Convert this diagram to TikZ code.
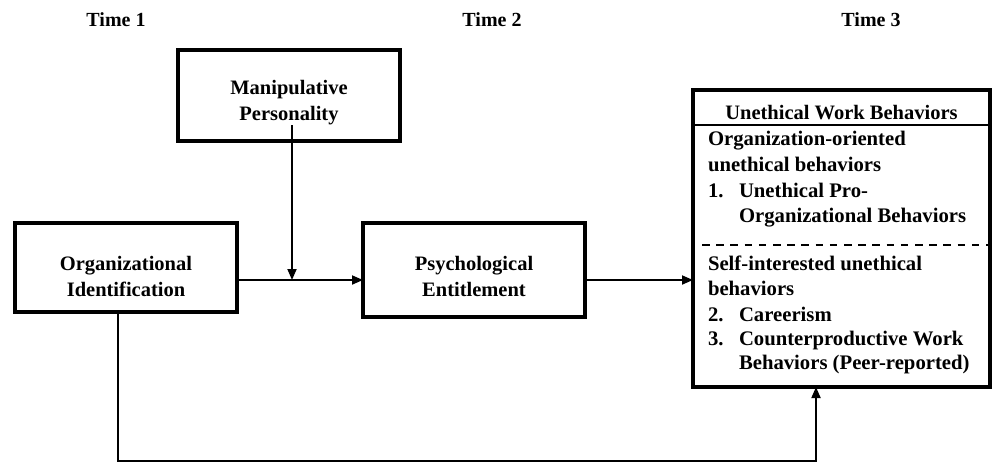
\documentclass[tikz,border=0pt]{standalone}
\usepackage{fontspec}
\setmainfont{Liberation Serif}
\usetikzlibrary{arrows.meta}
\begin{document}
\begin{tikzpicture}[x=1pt,y=-1pt,
  every node/.style={inner sep=0pt, outer sep=0pt},
  box/.style={draw, line width=3.6pt},
  boxtext/.style={font=\fontsize{20.5}{26}\selectfont\bfseries, align=center},
  timelabel/.style={font=\fontsize{20}{24}\selectfont\bfseries, anchor=base},
  item/.style={font=\fontsize{20.7}{25}\selectfont\bfseries, anchor=base west},
  head/.style={font=\fontsize{20.5}{25}\selectfont\bfseries, anchor=base},
  link/.style={line width=1.8pt, -{Triangle[length=11pt,width=9pt]}},
  plain/.style={line width=1.8pt}]
\useasboundingbox (0,0) rectangle (992,463);

% time labels
\node[timelabel] (t1) at (116,26) {Time 1};
\node[timelabel] (t2) at (492,26) {Time 2};
\node[timelabel] (t3) at (871,26) {Time 3};

% boxes
\node[box, minimum width=222pt, minimum height=91pt] (manip) at (289,95.5) {};
\node[boxtext] (maniptext) at (289,103) {Manipulative\\Personality};

\node[box, minimum width=222pt, minimum height=89pt] (org) at (126,267.5) {};
\node[boxtext] (orgtext) at (126,276) {Organizational\\Identification};

\node[box, minimum width=222pt, minimum height=94pt] (psych) at (474,270) {};
\node[boxtext] (psychtext) at (474,276) {Psychological\\Entitlement};

\node[box, minimum width=297pt, minimum height=297pt] (uwb) at (841.5,238.5) {};

% unethical box contents
\coordinate (hl) at (0,125);
\draw[line width=2.2pt] (uwb.west |- hl) -- (uwb.east |- hl);
\draw[line width=1.6pt, dash pattern=on 7.5pt off 6.7pt] (702,245) coordinate (ds) -- (988,245) coordinate (de);

\node[head] (hd) at (841.5,119) {Unethical Work Behaviors};
\node[item] (l1) at (708,145) {Organization-oriented};
\node[item] (l2) at (708,171) {unethical behaviors};
\node[item] (l3n) at (708,197) {1.};
\node[item] (l3) at (739,197) {Unethical Pro-};
\node[item] (l4) at (739,222) {Organizational Behaviors};
\node[item] (l5) at (708,270) {Self-interested unethical};
\node[item] (l6) at (708,295) {behaviors};
\node[item] (l7n) at (708,321) {2.};
\node[item] (l7) at (739,321) {Careerism};
\node[item] (l8n) at (708,345) {3.};
\node[item] (l8) at (739,345) {Counterproductive Work};
\node[item] (l9) at (739,369) {Behaviors (Peer-reported)};

% connectors
\coordinate (ay) at (0,280);
\coordinate (mstart) at (292,125);
\coordinate (junc) at (292,280);
\draw[plain] (org.east |- ay) -- (junc);
\draw[link] (junc) -- (psych.west |- ay);
\draw[link] (mstart) -- (junc);
\draw[link] (psych.east |- ay) -- (uwb.west |- ay);

\coordinate (bl) at (118,461);
\coordinate (br) at (816,461);
\draw[link] (org.south -| bl) -- (bl) -- (br) -- (uwb.south -| br);
\end{tikzpicture}
\end{document}
